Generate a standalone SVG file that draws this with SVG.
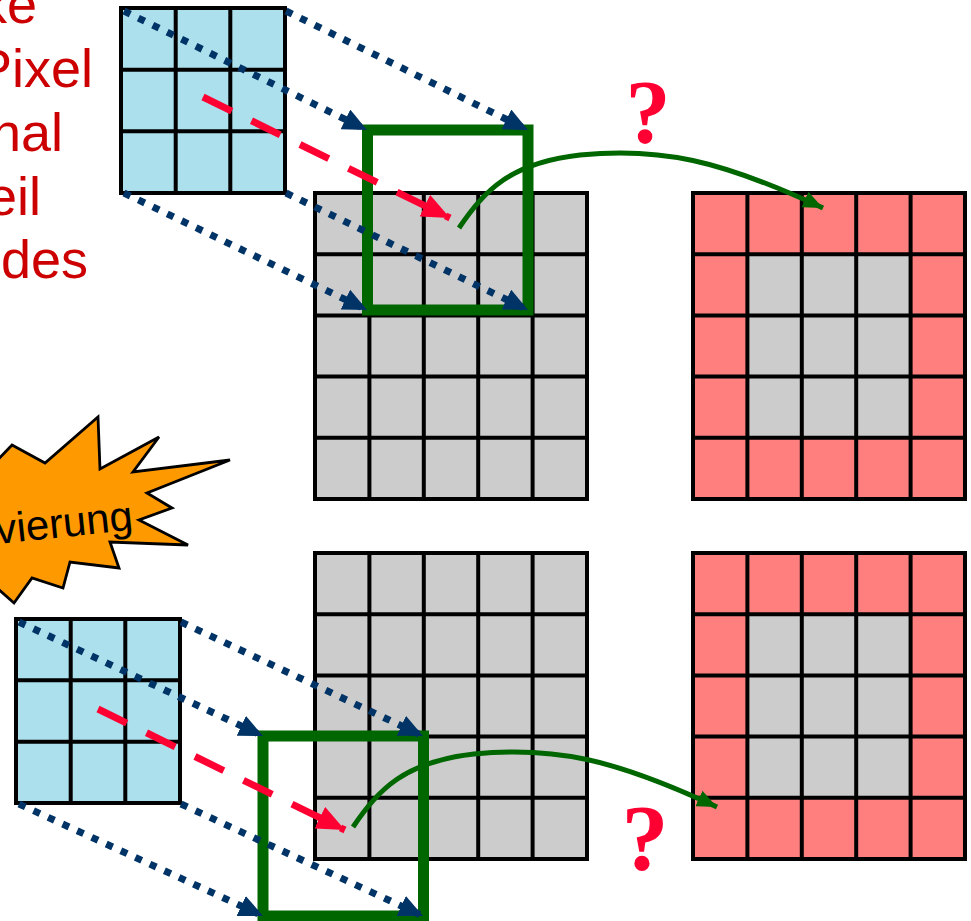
<svg xmlns="http://www.w3.org/2000/svg" width="971" height="921" viewBox="0 0 971 921">
<style>
.blue{fill:#ACE0EC}
.gray{fill:#CCCCCC}
.pink{fill:#FF7F7F}
.grid{stroke:#000;stroke-width:4;fill:none}
.frame{fill:none;stroke:#006600;stroke-width:11}
.dot{fill:none;stroke:#003366;stroke-width:7;stroke-dasharray:7 9}
.dash{fill:none;stroke:#FF0033;stroke-width:7;stroke-dasharray:32 22}
.curve{fill:none;stroke:#006600;stroke-width:5}
.lbl{font-family:"Liberation Sans",Arial,sans-serif;font-size:54px;fill:#CC0000}
.q{font-family:"Liberation Serif","Times New Roman",serif;font-weight:bold;fill:#FF0033;text-anchor:middle}
</style>
<defs>
<marker id="aNavy" markerUnits="userSpaceOnUse" viewBox="0 0 24 22" refX="24" refY="11" markerWidth="24" markerHeight="22" orient="auto"><path d="M0,0 L24,11 L0,22 z" fill="#003366"/></marker>
<marker id="aRed" markerUnits="userSpaceOnUse" viewBox="0 0 28 24" refX="28" refY="12" markerWidth="28" markerHeight="24" orient="auto"><path d="M0,0 L28,12 L0,24 z" fill="#FF0033"/></marker>
<marker id="aGreen" markerUnits="userSpaceOnUse" viewBox="0 0 20 17" refX="20" refY="8.5" markerWidth="20" markerHeight="17" orient="auto"><path d="M0,0 L20,8.5 L0,17 z" fill="#006600"/></marker>
</defs>

<g id="text-left">
<text class="lbl" x="37" y="23" text-anchor="end">ke</text>
<text class="lbl" x="93" y="87" text-anchor="end">Pixel</text>
<text class="lbl" x="63" y="151" text-anchor="end">nal</text>
<text class="lbl" x="41" y="215" text-anchor="end">eil</text>
<text class="lbl" x="88" y="278" text-anchor="end">des</text>
</g>

<g id="burst">
<path d="M98,417 L100,469 L159,437 L133,472 L230,460 L147,493 L172,508 L139,520 L188,545 L110,542 L119,568 L70,562 L63,588 L32,578 L14,603 L-12,580 L-12,470 L12,445 L45,463 Z" fill="#FF9900" stroke="#000" stroke-width="2.8" stroke-linejoin="miter"/>
<text x="-3" y="544" transform="rotate(-6 -3 544)" font-family="'Liberation Sans',Arial,sans-serif" font-size="42" fill="#000">vierung</text>
</g>

<g id="blue-top">
<rect class="blue" x="121" y="8" width="164" height="185"/>
<path class="grid" d="M121,8 H285 V193 H121 Z M175.7,8 V193 M230.3,8 V193 M121,69.7 H285 M121,131.3 H285"/>
</g>

<g id="gray-top">
<rect class="gray" x="315" y="193" width="272" height="306"/>
<path class="grid" d="M315,193 H587 V499 H315 Z M369.4,193 V499 M423.8,193 V499 M478.2,193 V499 M532.6,193 V499 M315,254.2 H587 M315,315.4 H587 M315,376.6 H587 M315,437.8 H587"/>
</g>

<g id="pink-top">
<rect class="pink" x="693" y="193" width="272" height="306"/>
<rect class="gray" x="747.4" y="254.2" width="163.2" height="183.6"/>
<path class="grid" d="M693,193 H965 V499 H693 Z M747.4,193 V499 M801.8,193 V499 M856.2,193 V499 M910.6,193 V499 M693,254.2 H965 M693,315.4 H965 M693,376.6 H965 M693,437.8 H965"/>
</g>

<g id="blue-bottom">
<rect class="blue" x="16" y="619" width="164" height="184"/>
<path class="grid" d="M16,619 H180 V803 H16 Z M70.7,619 V803 M125.3,619 V803 M16,680.3 H180 M16,741.7 H180"/>
</g>

<g id="gray-bottom">
<rect class="gray" x="315" y="553" width="272" height="306"/>
<path class="grid" d="M315,553 H587 V859 H315 Z M369.4,553 V859 M423.8,553 V859 M478.2,553 V859 M532.6,553 V859 M315,614.2 H587 M315,675.4 H587 M315,736.6 H587 M315,797.8 H587"/>
</g>

<g id="pink-bottom">
<rect class="pink" x="693" y="553" width="272" height="306"/>
<rect class="gray" x="747.4" y="614.2" width="163.2" height="183.6"/>
<path class="grid" d="M693,553 H965 V859 H693 Z M747.4,553 V859 M801.8,553 V859 M856.2,553 V859 M910.6,553 V859 M693,614.2 H965 M693,675.4 H965 M693,736.6 H965 M693,797.8 H965"/>
</g>

<g id="window-top"><rect class="frame" x="367.5" y="130" width="160.5" height="180"/></g>
<g id="window-bottom"><rect class="frame" x="263" y="736" width="160.5" height="180"/></g>

<g id="connectors">
<line class="dot" x1="124" y1="11" x2="367" y2="130" marker-end="url(#aNavy)"/>
<line class="dot" x1="286" y1="11" x2="528" y2="130" marker-end="url(#aNavy)"/>
<line class="dot" x1="124" y1="193" x2="367" y2="310" marker-end="url(#aNavy)"/>
<line class="dot" x1="286" y1="193" x2="528" y2="310" marker-end="url(#aNavy)"/>
<line class="dot" x1="19" y1="622" x2="263" y2="736" marker-end="url(#aNavy)"/>
<line class="dot" x1="181" y1="622" x2="423" y2="736" marker-end="url(#aNavy)"/>
<line class="dot" x1="19" y1="804" x2="263" y2="916" marker-end="url(#aNavy)"/>
<line class="dot" x1="181" y1="804" x2="423" y2="916" marker-end="url(#aNavy)"/>
<line class="dash" x1="203" y1="97" x2="450" y2="218" marker-end="url(#aRed)"/>
<line class="dash" x1="98" y1="709" x2="345" y2="830" marker-end="url(#aRed)"/>
<path class="curve" d="M459,228 C485,190 510,163 580,155 C660,147 720,160 823,208" marker-end="url(#aGreen)"/>
<path class="curve" d="M353,827 C379,789 404,762 474,754 C554,746 614,759 717,807" marker-end="url(#aGreen)"/>
</g>

<g id="questions">
<text class="q" x="648" y="143" font-size="90">?</text>
<text class="q" x="645" y="869" font-size="94">?</text>
</g>
</svg>
